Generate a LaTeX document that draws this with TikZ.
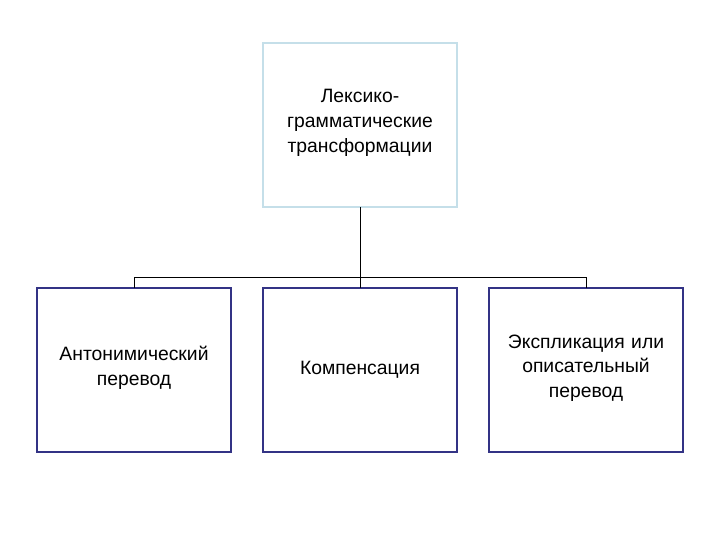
\documentclass[tikz,border=0pt]{standalone}
\usepackage{fontspec}
\setmainfont{Liberation Sans}
\begin{document}
\begin{tikzpicture}[x=0.75pt,y=-0.75pt,
  topbox/.style={draw=cyan!30!teal!25, line width=1.5pt, fill=white},
  botbox/.style={draw=blue!40!black!80, line width=1.5pt},
  lbl/.style={font=\fontsize{14.5pt}{18.5pt}\selectfont, align=center, text width=150pt},
  conn/.style={draw=black, line width=0.75pt}]
\useasboundingbox (0,0) rectangle (720,540);
\draw[topbox] (263,43) rectangle (457,207);
\node[lbl] (t) at (360,123) {Лексико-\\грамматические\\трансформации};
\draw[botbox] (37,288) rectangle (231,452);
\draw[botbox] (263,288) rectangle (457,452);
\draw[botbox] (489,288) rectangle (683,452);
\node[lbl] (a) at (134,368) {Антонимический\\перевод};
\node[lbl] (b) at (360,370) {Компенсация};
\node[lbl] (c) at (586,368) {Экспликация или\\описательный\\перевод};
\coordinate (tb) at (360,207);
\coordinate (j) at (360,277);
\coordinate (l) at (134,277);
\coordinate (r) at (586,277);
\coordinate (la) at (134,288);
\coordinate (lb) at (360,288);
\coordinate (lc) at (586,288);
\draw[conn] (tb) -- (j);
\draw[conn] (l) -- (r);
\draw[conn] (l) -- (la);
\draw[conn] (j) -- (lb);
\draw[conn] (r) -- (lc);
\end{tikzpicture}
\end{document}
